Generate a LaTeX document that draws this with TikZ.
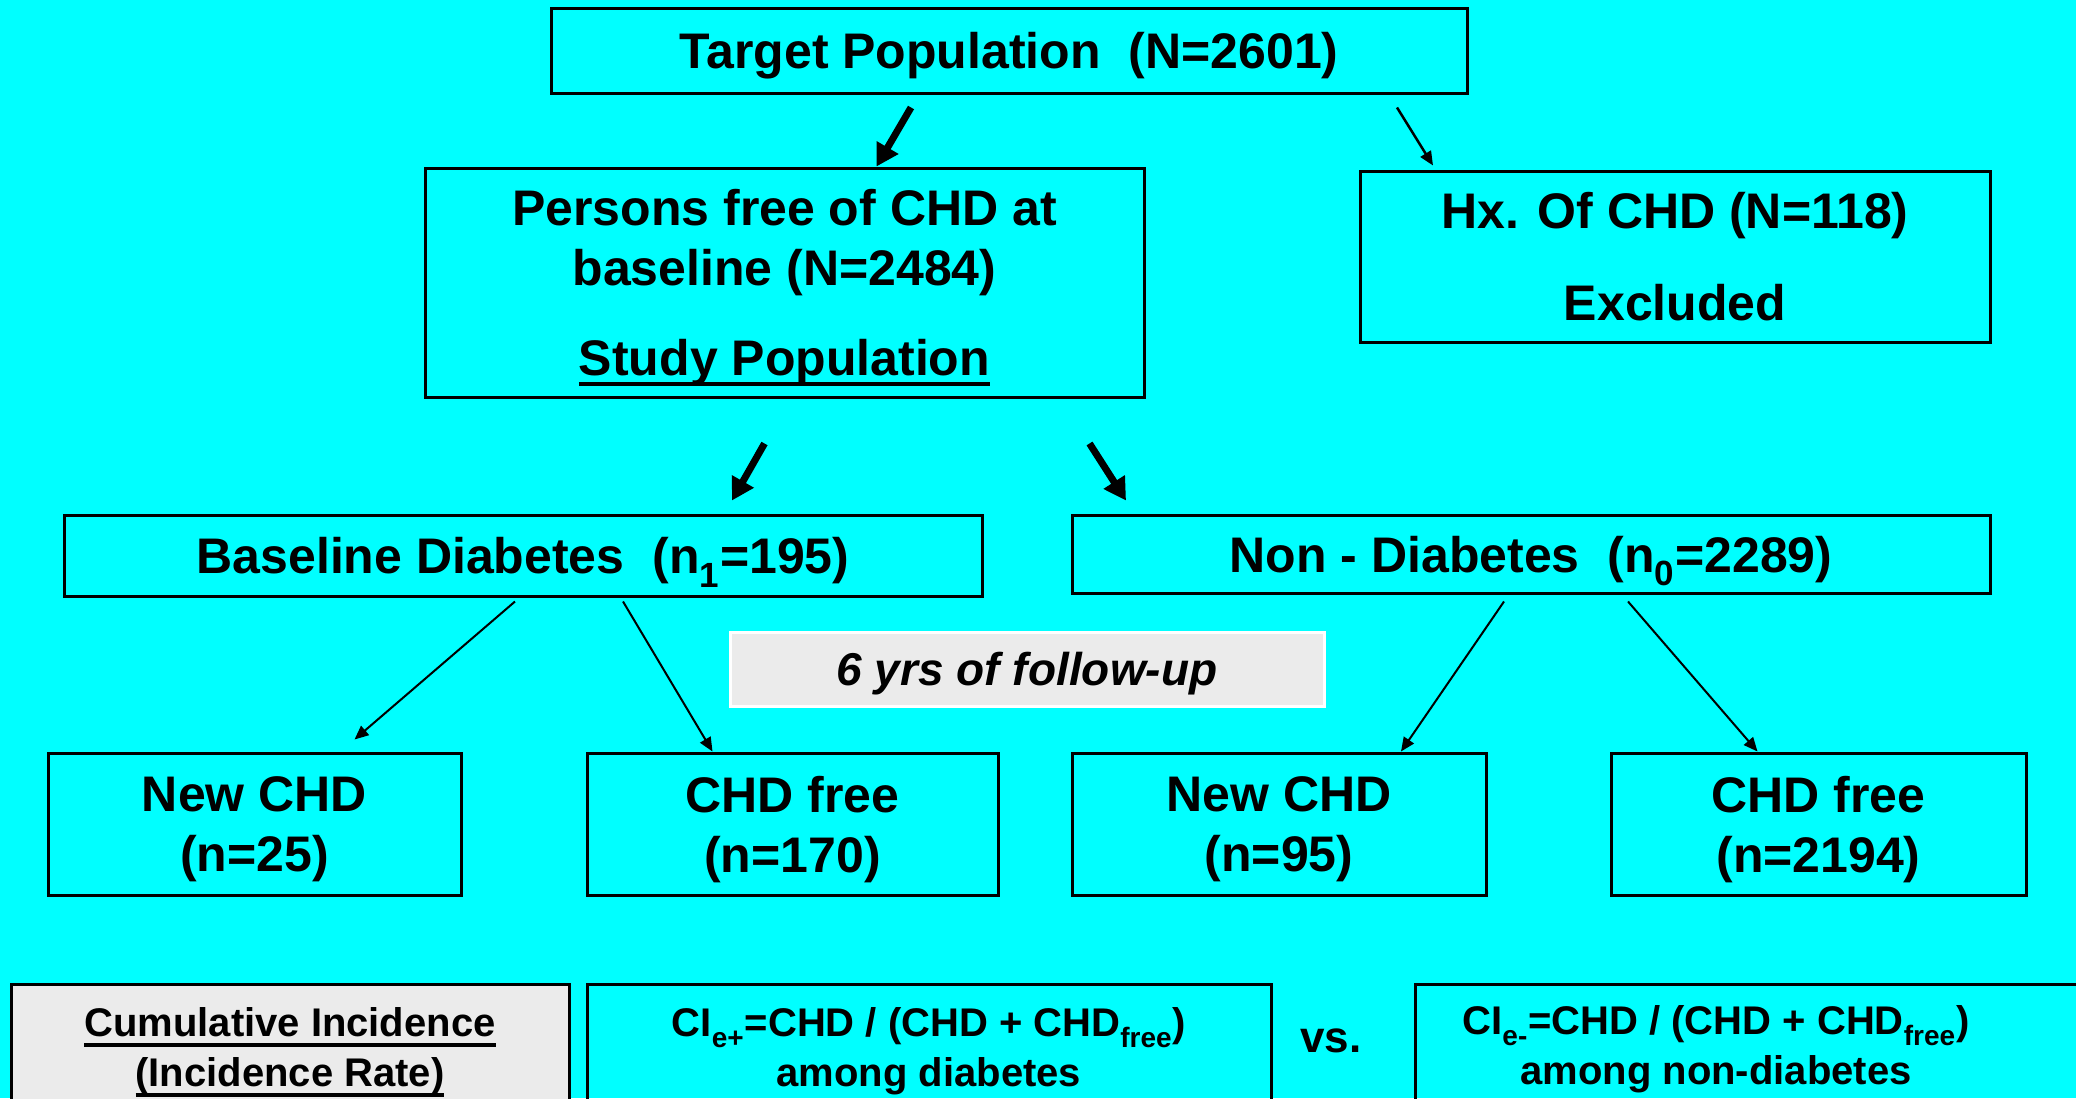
\documentclass[tikz,border=0pt]{standalone}
\usepackage{fontspec}
\setmainfont{Liberation Sans}
\usetikzlibrary{arrows.meta,calc}
\definecolor{bgcyan}{HTML}{00FFFF}
\definecolor{notegray}{HTML}{EBEBEB}
\newcommand{\ulbar}[1]{\leavevmode\setbox0\hbox{#1}\rlap{\rule[-5pt]{\wd0}{2pt}}\box0}
\newcommand{\lowsub}[1]{\raisebox{-0.12em}{\textsubscript{#1}}}

\tikzset{every picture/.style={line width=1.5pt}}
\tikzset{
  flowbox/.style={draw=black, line width=1.5pt, align=center, inner sep=0pt, text depth=0pt,
    font=\fontsize{25}{30}\selectfont\bfseries},
  smallbox/.style={flowbox, font=\fontsize{20}{25}\selectfont\bfseries},
  bigarrow/.style={line width=3.5pt, -{Triangle[length=11pt,width=12pt]}},
  thinarrow/.style={line width=1pt, -{Triangle[length=7pt,width=6pt]}},
}

\begin{document}
\begin{tikzpicture}[x=0.5pt,y=-0.5pt]
\clip (0,0) rectangle (2076,1098);
%Background
\fill [bgcyan] (0,0) rectangle (2076,1098);

%Top level
\node [flowbox, minimum width=458pt, minimum height=42.5pt] (tp) at (1009,50.5) {Target Population\ \ (N=2601)};
\node [flowbox, minimum width=359.5pt, minimum height=114.5pt] (pers) at (784.5,282.5) {Persons free of CHD at\\ baseline (N=2484)\\[15pt] \ulbar{Study Population}};
\node [flowbox, minimum width=315pt, minimum height=85.5pt] (hx) at (1675,256.5) {Hx. Of CHD (N=118)\\[16pt] Excluded};

%Exposure groups
\node [flowbox, minimum width=459pt, minimum height=40.5pt] (bd) at (523,555.5) {Baseline Diabetes\ \ (n\lowsub{1}=195)};
\node [flowbox, minimum width=459pt, minimum height=39pt] (nd) at (1531,554) {Non - Diabetes\ \ (n\lowsub{0}=2289)};

%Follow-up note
\node [flowbox, draw=white, fill=notegray, minimum width=297pt, minimum height=37pt,
  font=\fontsize{23}{28}\selectfont\bfseries\itshape] (fu) at (1027,669) {6 yrs of follow-up};

%Outcomes
\node [flowbox, minimum width=206.5pt, minimum height=71pt] (nc1) at (254.5,824) {New CHD\\ (n=25)};
\node [flowbox, minimum width=205.5pt, minimum height=71pt] (cf1) at (792.5,824) {CHD free\\ (n=170)};
\node [flowbox, minimum width=207pt, minimum height=71pt] (nc2) at (1279,824) {New CHD\\ (n=95)};
\node [flowbox, minimum width=207.5pt, minimum height=71pt] (cf2) at (1818.5,824) {CHD free\\ (n=2194)};

%Incidence row
\node [smallbox, fill=notegray, minimum width=279pt, minimum height=63pt] (ci) at (290,1047) {\ulbar{Cumulative Incidence}\\ \ulbar{(Incidence Rate)}};
\node [smallbox, minimum width=342pt, minimum height=63pt] (cie) at (929,1047) {CI\lowsub{e+}=CHD / (CHD + CHD\lowsub{free})\\ among diabetes};
\node [smallbox, font=\fontsize{22}{25}\selectfont\bfseries, draw=none] (vs) at (1331,1041) {vs.};
\node [smallbox, anchor=west, minimum width=340pt, minimum height=63pt] (cin) at (1414,1047) {};
\node [smallbox, draw=none] (cintext) at (1716,1045) {CI\lowsub{e-}=CHD / (CHD + CHD\lowsub{free})\\ among non-diabetes};

%Arrows
\draw [bigarrow] ($(tp.south)+(-98,13)$) -- ($(pers.north)+(92,0)$);
\draw [thinarrow, line width=1.25pt] ($(tp.south)+(388,13)$) -- ($(hx.north)+(-242,-4)$);
\draw [bigarrow] ($(pers.south)+(-20,45)$) -- ($(bd.north)+(209,-13)$);
\draw [bigarrow] ($(pers.south)+(305,45)$) -- ($(nd.north)+(-405,-13)$);
\draw [thinarrow] ($(bd.south)+(-8,4)$) -- ($(nc1.north)+(100,-12)$);
\draw [thinarrow] ($(bd.south)+(100,4)$) -- ($(cf1.north)+(-80,0)$);
\draw [thinarrow] ($(nd.south)+(-27,7)$) -- ($(nc2.north)+(122,0)$);
\draw [thinarrow] ($(nd.south)+(97,7)$) -- ($(cf2.north)+(-61,0)$);

\end{tikzpicture}
\end{document}
